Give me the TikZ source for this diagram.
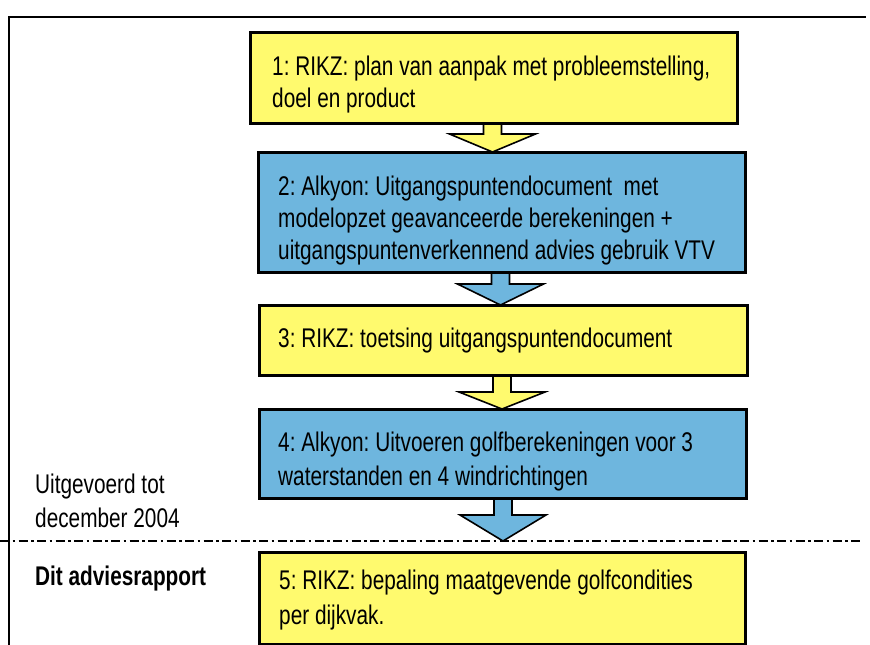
\documentclass[tikz,border=0pt]{standalone}
\usepackage{fontspec}
\setmainfont{Liberation Sans}[FakeStretch=0.77]
\usetikzlibrary{calc}
\frenchspacing
\definecolor{boxyellow}{RGB}{255,250,110}
\definecolor{boxblue}{RGB}{110,182,222}
\tikzset{
  boxbase/.style={draw=black, line width=2pt, rectangle, anchor=north west, inner sep=0pt},
  ybox/.style={boxbase, fill=boxyellow},
  bbox/.style={boxbase, fill=boxblue},
  txt/.style={anchor=base west, inner sep=0pt, font=\fontsize{27}{30}\selectfont},
  blk/.style={draw=black, line width=1.6pt, line join=miter},
  frameline/.style={line width=2.5pt},
  sepline/.style={line width=2pt, dash pattern=on 9pt off 3.5pt on 2.5pt off 3.5pt}
}
% #1 fill, #2 from node, #3 tip target, #4 x offset of arrow axis from #2.south, #5 stem length
\newcommand\blkarrow[5]{%
  \coordinate (ax) at ($(#2.south)+(#4,0)$);
  \draw[blk, fill=#1] ($(ax)+(-9,0)$) -- ++(0,#5) -- ($(ax)+(-43,#5)$) -- (ax |- #3)
     -- ($(ax)+(43,#5)$) -- ($(ax)+(9,#5)$) -- ($(ax)+(9,0)$) -- cycle;
}
\begin{document}
\begin{tikzpicture}[x=1pt,y=-1pt]
\useasboundingbox[fill=white] (0,0) rectangle (870,645);
% frame
\coordinate (ftl) at (9,17);
\coordinate (ftr) at (866,17);
\coordinate (fbl) at (9,645);
\draw[frameline] (fbl) -- (ftl) -- (ftr);
% boxes
\node[ybox, minimum width=486pt, minimum height=90pt] (b1) at (250,32) {};
\node[bbox, minimum width=486pt, minimum height=119pt] (b2) at (258,152) {};
\node[ybox, minimum width=487pt, minimum height=69pt] (b3) at (259,305) {};
\node[bbox, minimum width=486pt, minimum height=88pt] (b4) at (259,409) {};
\node[ybox, minimum width=485pt, minimum height=91pt] (b5) at (259,552) {};
% separator
\coordinate (sl) at (0,541);
\coordinate (sr) at (863,541);
\draw[sepline] (sl) -- (sr);
% block arrows
\blkarrow{boxyellow}{b1}{b2.north}{-1.5}{10}
\blkarrow{boxblue}{b2}{b3.north}{-1.5}{11}
\blkarrow{boxyellow}{b3}{b4.north}{-1.5}{16}
\blkarrow{boxblue}{b4}{sl}{0}{16}
% redraw box borders on top of arrow stems
\foreach \b in {b1,b2,b3,b4,b5} \draw[line width=2pt] (\b.south west) rectangle (\b.north east);
% texts
\node[txt] (t1a) at (272,75) {1: RIKZ: plan van aanpak met probleemstelling,};
\node[txt] (t1b) at (272,107) {doel en product};
\node[txt] (t2a) at (278,195) {2: Alkyon: Uitgangspuntendocument\ \ met};
\node[txt] (t2b) at (278,227) {modelopzet geavanceerde berekeningen +};
\node[txt] (t2c) at (278,259) {uitgangspuntenverkennend advies gebruik VTV};
\node[txt] (t3a) at (278,347) {3: RIKZ: toetsing uitgangspuntendocument};
\node[txt] (t4a) at (278,451) {4: Alkyon: Uitvoeren golfberekeningen voor 3};
\node[txt] (t4b) at (278,485) {waterstanden en 4 windrichtingen};
\node[txt] (t5a) at (279,589) {5: RIKZ: bepaling maatgevende golfcondities};
\node[txt] (t5b) at (279,624) {per dijkvak.};
\node[txt] (l1) at (35,493) {Uitgevoerd tot};
\node[txt] (l2) at (35,527) {december 2004};
\node[txt, font=\fontsize{27}{30}\selectfont\bfseries] (l3) at (35,585) {Dit adviesrapport};
\end{tikzpicture}
\end{document}
